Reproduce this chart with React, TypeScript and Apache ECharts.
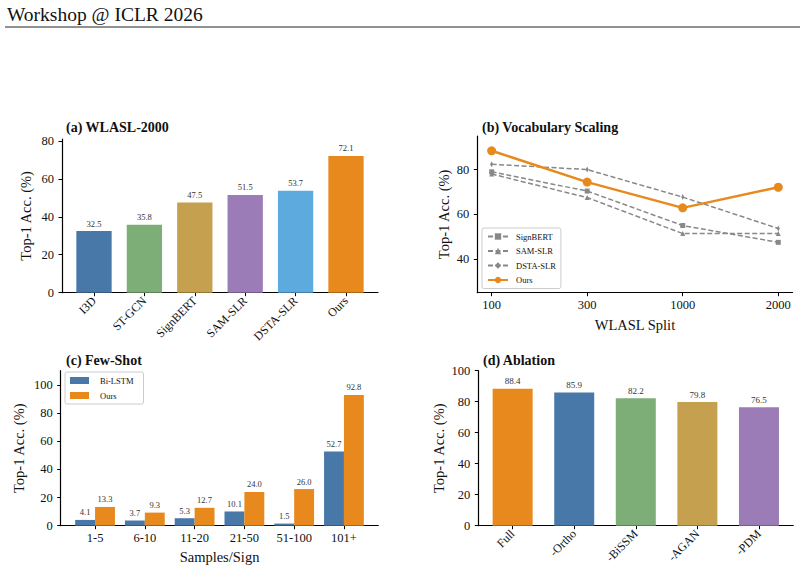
import React, { useEffect, useRef } from "react";
import * as echarts from "echarts";

// ---------- data ----------
const headerText = "Workshop @ ICLR 2026";

const aMethods = ["I3D", "ST-GCN", "SignBERT", "SAM-SLR", "DSTA-SLR", "Ours"];
const aValues = [32.5, 35.8, 47.5, 51.5, 53.7, 72.1];
const aColors = ["#4878A8", "#7DAE78", "#C5A04E", "#9B7CB6", "#5DAADF", "#E8891E"];

const bSplits = ["100", "300", "1000", "2000"];
const bSignBERT = [79.0, 70.4, 55.0, 47.5];
const bSAMSLR = [78.0, 67.5, 51.4, 51.5];
const bDSTASLR = [82.4, 80.0, 67.7, 53.7];
const bOurs = [88.4, 74.4, 62.9, 72.1];

const cBins = ["1-5", "6-10", "11-20", "21-50", "51-100", "101+"];
const cBiLSTM = [4.1, 3.7, 5.3, 10.1, 1.5, 52.7];
const cOurs = [13.3, 9.3, 12.7, 24.0, 26.0, 92.8];

const dVariants = ["Full", "-Ortho", "-BiSSM", "-AGAN", "-PDM"];
const dValues = [88.4, 85.9, 82.2, 79.8, 76.5];
const dColors = ["#E8891E", "#4878A8", "#7DAE78", "#C5A04E", "#9B7CB6"];

const yTicksA = [0, 20, 40, 60, 80];
const yTicksB = [40, 60, 80];
const yTicksC = [0, 20, 40, 60, 80, 100];
const yTicksD = [0, 20, 40, 60, 80, 100];

// ---------- styling ----------
const FONT = "'Liberation Serif', 'Times New Roman', 'DejaVu Serif', serif";
const ORANGE = "#E8891E";
const BLUE = "#4878A8";
const GRAY = "#888888";

const idx = (arr: any[]) => arr.map((_, i) => i);

function xAxisCfg(gridIndex: number, min: number, max: number, cats: string[], rotate: number, extra: any = {}) {
  return {
    type: "value",
    gridIndex,
    min,
    max,
    splitLine: { show: false },
    axisLine: { show: true, onZero: false, lineStyle: { color: "#000", width: 1.2 } },
    axisTick: { show: true, length: 3.5, lineStyle: { color: "#000", width: 1 }, customValues: idx(cats) },
    axisLabel: {
      customValues: idx(cats),
      formatter: (v: number) => cats[Math.round(v)] ?? "",
      rotate,
      margin: 6,
      fontFamily: FONT,
      fontSize: rotate ? 12 : 12.5,
      color: "#111",
      showMinLabel: true,
      showMaxLabel: true,
    },
    ...extra,
  };
}

function yAxisCfg(gridIndex: number, min: number, max: number, ticks: number[], nameGap: number) {
  return {
    type: "value",
    gridIndex,
    min,
    max,
    name: "Top-1 Acc. (%)",
    nameLocation: "middle",
    nameGap,
    nameTextStyle: { fontFamily: FONT, fontSize: 14.5, color: "#111" },
    splitLine: { show: false },
    axisLine: { show: true, onZero: false, lineStyle: { color: "#000", width: 1.2 } },
    axisTick: { show: true, length: 3.5, lineStyle: { color: "#000", width: 1 }, customValues: ticks },
    axisLabel: { customValues: ticks, margin: 8, fontFamily: FONT, fontSize: 12.5, color: "#111" },
  };
}

const valLabel = {
  show: true,
  position: "top",
  distance: 3,
  fontFamily: FONT,
  fontSize: 8.5,
  color: "#333",
  formatter: (p: any) => Number(p.value[1]).toFixed(1),
};

const dashed = [5, 2.5];

export default function App() {
  const ref = useRef<HTMLDivElement>(null);

  useEffect(() => {
    if (!ref.current) return;
    const chart = echarts.init(ref.current, undefined, { renderer: "svg" });

    const option: any = {
      animation: false,
      backgroundColor: "#fff",
      graphic: [
        {
          type: "text",
          left: 7,
          top: 4,
          style: { text: headerText, fontFamily: FONT, fontSize: 19.5, fill: "#111" },
        },
        {
          type: "line",
          shape: { x1: 5, y1: 27, x2: 800, y2: 27 },
          style: { stroke: "#222", lineWidth: 1 },
        },
      ],
      title: [
        { text: "(a) WLASL-2000", left: 61, top: 115, textStyle: { fontFamily: FONT, fontSize: 14, fontWeight: "bold", color: "#111" } },
        { text: "(b) Vocabulary Scaling", left: 477, top: 115, textStyle: { fontFamily: FONT, fontSize: 14, fontWeight: "bold", color: "#111" } },
        { text: "(c) Few-Shot", left: 61, top: 348, textStyle: { fontFamily: FONT, fontSize: 14, fontWeight: "bold", color: "#111" } },
        { text: "(d) Ablation", left: 478, top: 348, textStyle: { fontFamily: FONT, fontSize: 14, fontWeight: "bold", color: "#111" } },
      ],
      legend: [
        {
          orient: "vertical",
          left: 482,
          top: 228,
          data: ["SignBERT", "SAM-SLR", "DSTA-SLR", "Ours"],
          itemWidth: 20,
          itemHeight: 8,
          itemGap: 5.5,
          padding: [4, 5, 4, 5],
          borderColor: "#cccccc",
          borderWidth: 1,
          borderRadius: 2,
          backgroundColor: "rgba(255,255,255,0.85)",
          selectedMode: false,
          textStyle: { fontFamily: FONT, fontSize: 8.5, color: "#111", padding: [0, 0, 0, 3] },
        },
        {
          orient: "vertical",
          left: 65,
          top: 372,
          data: ["Bi-LSTM", "Ours|c"],
          formatter: (n: string) => n.split("|")[0],
          icon: "rect",
          itemWidth: 19,
          itemHeight: 7,
          itemGap: 6,
          padding: [4, 10, 4, 5],
          borderColor: "#cccccc",
          borderWidth: 1,
          borderRadius: 2,
          backgroundColor: "rgba(255,255,255,0.85)",
          selectedMode: false,
          textStyle: { fontFamily: FONT, fontSize: 8.5, color: "#111", padding: [0, 0, 0, 6] },
        },
      ],
      grid: [
        { left: 62, top: 139, width: 316, height: 153.7 },
        { left: 477.3, top: 136, width: 315.3, height: 156.7 },
        { left: 60.7, top: 370.7, width: 317.6, height: 155 },
        { left: 478.3, top: 370.7, width: 315, height: 155 },
      ],
      xAxis: [
        xAxisCfg(0, -0.635, 5.635, aMethods, 45),
        xAxisCfg(1, -0.15, 3.15, bSplits, 0, {
          name: "WLASL Split",
          nameLocation: "middle",
          nameGap: 25,
          nameTextStyle: { fontFamily: FONT, fontSize: 14.5, color: "#111" },
        }),
        xAxisCfg(2, -0.69, 5.69, cBins, 0, {
          name: "Samples/Sign",
          nameLocation: "middle",
          nameGap: 24,
          nameTextStyle: { fontFamily: FONT, fontSize: 14.5, color: "#111" },
        }),
        xAxisCfg(3, -0.5575, 4.5575, dVariants, 45),
      ],
      yAxis: [
        yAxisCfg(0, 0, 81, yTicksA, 29),
        yAxisCfg(1, 25, 95, yTicksB, 26),
        yAxisCfg(2, 0, 110, yTicksC, 34),
        yAxisCfg(3, 0, 100, yTicksD, 32),
      ],
      series: [
        {
          name: "WLASL-2000",
          type: "bar",
          xAxisIndex: 0,
          yAxisIndex: 0,
          barWidth: 35.3,
          data: aValues.map((v, i) => ({ value: [i, v], itemStyle: { color: aColors[i] } })),
          label: valLabel,
        },
        {
          name: "SignBERT",
          type: "line",
          xAxisIndex: 1,
          yAxisIndex: 1,
          data: bSignBERT.map((v, i) => [i, v]),
          color: GRAY,
          lineStyle: { color: GRAY, width: 1.5, type: dashed },
          itemStyle: { color: GRAY },
          symbol: "rect",
          symbolSize: 5,
          z: 2,
        },
        {
          name: "SAM-SLR",
          type: "line",
          xAxisIndex: 1,
          yAxisIndex: 1,
          data: bSAMSLR.map((v, i) => [i, v]),
          color: GRAY,
          lineStyle: { color: GRAY, width: 1.5, type: dashed },
          itemStyle: { color: GRAY },
          symbol: "triangle",
          symbolSize: 5,
          z: 2,
        },
        {
          name: "DSTA-SLR",
          type: "line",
          xAxisIndex: 1,
          yAxisIndex: 1,
          data: bDSTASLR.map((v, i) => [i, v]),
          color: GRAY,
          lineStyle: { color: GRAY, width: 1.5, type: dashed },
          itemStyle: { color: GRAY },
          symbol: "diamond",
          symbolSize: [3, 6],
          z: 2,
        },
        {
          name: "Ours",
          type: "line",
          xAxisIndex: 1,
          yAxisIndex: 1,
          data: bOurs.map((v, i) => [i, v]),
          color: ORANGE,
          lineStyle: { color: ORANGE, width: 2.5 },
          itemStyle: { color: ORANGE },
          symbol: "circle",
          symbolSize: 9,
          z: 3,
        },
        {
          name: "Bi-LSTM",
          type: "bar",
          xAxisIndex: 2,
          yAxisIndex: 2,
          barWidth: 19.9,
          barGap: "0%",
          color: BLUE,
          itemStyle: { color: BLUE },
          data: cBiLSTM.map((v, i) => [i, v]),
          label: valLabel,
        },
        {
          name: "Ours|c",
          type: "bar",
          xAxisIndex: 2,
          yAxisIndex: 2,
          barWidth: 19.9,
          barGap: "0%",
          color: ORANGE,
          itemStyle: { color: ORANGE },
          data: cOurs.map((v, i) => [i, v]),
          label: valLabel,
        },
        {
          name: "Ablation",
          type: "bar",
          xAxisIndex: 3,
          yAxisIndex: 3,
          barWidth: 40,
          data: dValues.map((v, i) => ({ value: [i, v], itemStyle: { color: dColors[i] } })),
          label: { ...valLabel, fontSize: 9 },
        },
      ],
    };

    chart.setOption(option);
    return () => chart.dispose();
  }, []);

  return (
    <div
      ref={ref}
      style={{ position: "fixed", left: 0, top: 0, width: 805, height: 573, background: "#fff" }}
    />
  );
}
